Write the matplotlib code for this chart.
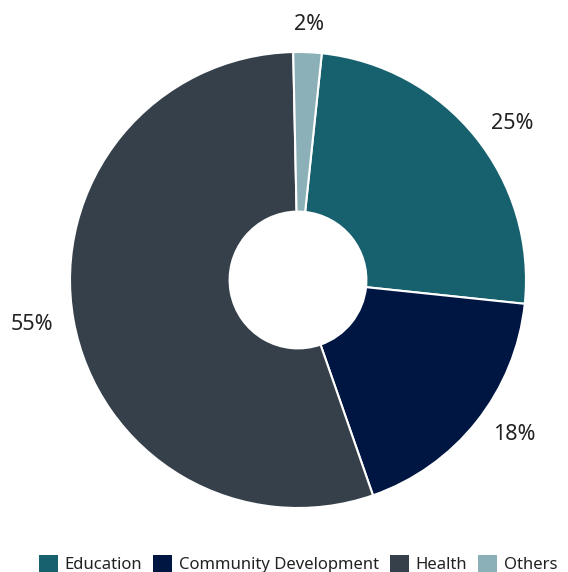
import numpy as np
import matplotlib
matplotlib.use("Agg")
import matplotlib.pyplot as plt
from matplotlib.patches import Patch

categories = ["Education", "Community Development", "Health", "Others"]
shares = [25, 18, 55, 2]
colors = ["#17606e", "#001642", "#35404a", "#8bb0b8"]

plt.rcParams["font.family"] = ["Noto Sans", "DejaVu Sans"]

fig = plt.figure(figsize=(5.68, 5.72), dpi=100)
ax = fig.add_axes([0, 0, 1, 1])

# pie geometry in pixels -> data units
cx, cy, R = 298, 280, 228

start = 90 - 6  # first wedge starts slightly right of 12 o'clock
wedges, _ = ax.pie(
    shares, colors=colors, startangle=start, counterclock=False,
    radius=1.0, center=(0, 0), frame=False,
    wedgeprops=dict(width=0.70, edgecolor="white", linewidth=1.5),
)
ax.set_xlim(-cx / R, (568 - cx) / R)
ax.set_ylim(-(572 - cy) / R, cy / R)
ax.set_aspect("auto")
ax.axis("off")

for w, v in zip(wedges, shares):
    mid = np.deg2rad((w.theta1 + w.theta2) / 2)
    x, y = np.cos(mid), np.sin(mid)
    if abs(x) < 0.15:
        ha = "center"
        d = 1.12
    else:
        ha = "left" if x > 0 else "right"
        d = 1.09
    ax.text(d * x, d * y, f"{v}%", ha=ha, va="center",
            fontsize=15.5, color="#222222")

handles = [Patch(facecolor=c, edgecolor="none") for c in colors]
fig.legend(handles, categories, loc="lower center", ncol=4,
           bbox_to_anchor=(0.525, -0.028), frameon=False, fontsize=12,
           handlelength=1.15, handleheight=1.15, handletextpad=0.4,
           columnspacing=0.65, labelcolor="#222222")

fig.savefig("out.png", dpi=100, facecolor="white")
